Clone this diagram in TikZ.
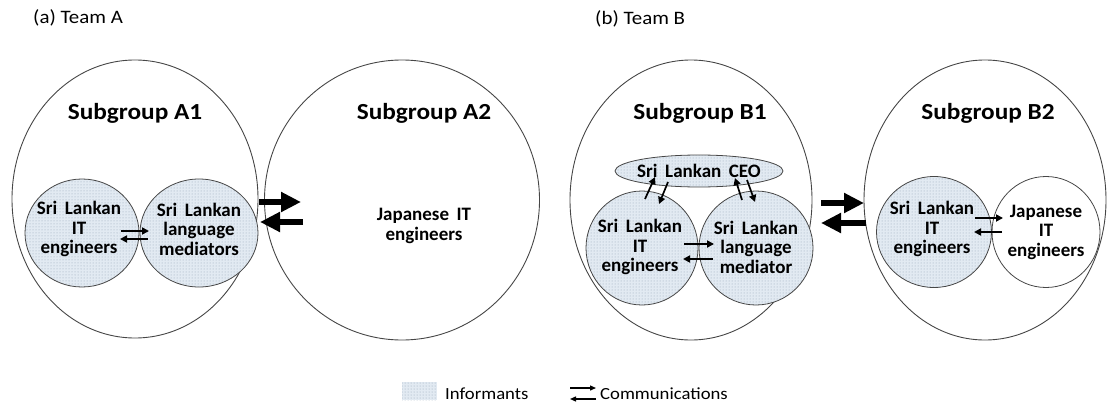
\documentclass[tikz,border=0pt]{standalone}
\usepackage{fontspec}
\setmainfont{Carlito}[FakeStretch=1.1]
\newfontfamily\boxfont{Carlito}
\newcommand\widewordspace{\spaceskip=0.4em\relax}
\usetikzlibrary{shapes.geometric,patterns,arrows.meta}
\definecolor{dotfill}{RGB}{226,234,242}
\definecolor{dotink}{RGB}{150,165,182}
\definecolor{rim}{RGB}{70,70,70}
\tikzset{
  group/.style={ellipse,draw=rim,line width=0.9pt,inner sep=0pt},
  member/.style={ellipse,draw=rim,line width=0.8pt,inner sep=0pt},
  informant/.style={member,preaction={fill=dotfill},pattern=dots,pattern color=dotink},
  inner/.style={align=center,inner sep=0pt,
    font=\boxfont\fontsize{19}{19.5}\selectfont\bfseries,
    execute at begin node=\widewordspace},
  title/.style={font=\fontsize{23}{26}\selectfont\bfseries,anchor=base},
  caption/.style={font=\fontsize{19}{21}\selectfont,anchor=west,inner sep=0pt},
  legendtext/.style={font=\fontsize{17}{19}\selectfont,anchor=west,inner sep=0pt},
  bigarrow/.style={line width=6pt,-{Triangle[length=20pt,width=19pt]}},
  smallarrow/.style={line width=1.7pt,-{Triangle[length=7pt,width=7pt]}},
  legendarrow/.style={line width=1.3pt,-{Triangle[length=6pt,width=5pt]}}
}
\begin{document}
\begin{tikzpicture}[x=1pt,y=-1pt]
\useasboundingbox (0,0) rectangle (1107,404);

% panel captions
\node[caption] (capA) at (33,18) {(a) Team A};
\node[caption] (capB) at (595,19) {(b) Team B};

% ---------------- Team A ----------------
\node[group,minimum width=246pt,minimum height=278pt] (A1) at (135,199) {};
\node[group,minimum width=275pt,minimum height=280pt] (A2) at (402,200) {};
\node[title] (tA1) at (135,119) {Subgroup A1};
\node[title] (tA2) at (424,119) {Subgroup A2};

\node[informant,minimum width=114pt,minimum height=108pt] (A1it) at (82,233) {};
\node[informant,minimum width=118pt,minimum height=108pt] (A1lm) at (199,233) {};
\node[inner] (A1itT) at (79,229) {Sri Lankan\\IT\\engineers};
\node[inner] (A1lmT) at (199,229) {Sri Lankan\\language\\mediators};
\node[inner] (A2jp) at (424,226) {Japanese IT\\engineers};

\coordinate (a1s) at (121,231);
\coordinate (a1e) at (149,231);
\coordinate (a2s) at (148,239);
\coordinate (a2e) at (120,239);
\draw[smallarrow] (a1s) -- (a1e);
\draw[smallarrow] (a2s) -- (a2e);

\coordinate (ab1s) at (259,202);
\coordinate (ab1e) at (301,202);
\coordinate (ab2s) at (303,222);
\coordinate (ab2e) at (260,222);
\draw[bigarrow] (ab1s) -- (ab1e);
\draw[bigarrow] (ab2s) -- (ab2e);

% ---------------- Team B ----------------
\node[group,minimum width=242pt,minimum height=280pt] (B1) at (691,200) {};
\node[group,minimum width=242pt,minimum height=280pt] (B2) at (985,200) {};
\node[title] (tB1) at (700,119) {Subgroup B1};
\node[title] (tB2) at (988,119) {Subgroup B2};

\node[informant,minimum width=168pt,minimum height=32pt] (ceo) at (699,171) {};
\node[inner] (ceoT) at (ceo) {Sri Lankan CEO};
\node[informant,minimum width=112pt,minimum height=114pt] (B1it) at (642,248) {};
\node[informant,minimum width=114pt,minimum height=114pt] (B1lm) at (756,248) {};
\node[inner] (B1itT) at (640,247) {Sri Lankan\\IT\\engineers};
\node[inner] (B1lmT) at (756,247) {Sri Lankan\\language\\mediator};

\coordinate (b1s) at (684,244);
\coordinate (b1e) at (714,244);
\coordinate (b2s) at (713,259);
\coordinate (b2e) at (683,259);
\draw[smallarrow] (b1s) -- (b1e);
\draw[smallarrow] (b2s) -- (b2e);

% links to the CEO
\coordinate (c1s) at (645,199);
\coordinate (c1e) at (655,177);
\coordinate (c2s) at (668,182);
\coordinate (c2e) at (659,204);
\coordinate (c3s) at (742,200);
\coordinate (c3e) at (735,178);
\coordinate (c4s) at (747,180);
\coordinate (c4e) at (755,202);
\draw[smallarrow] (c1s) -- (c1e);
\draw[smallarrow] (c2s) -- (c2e);
\draw[smallarrow] (c3s) -- (c3e);
\draw[smallarrow] (c4s) -- (c4e);

\node[informant,minimum width=115pt,minimum height=111pt] (B2it) at (934,232) {};
\node[member,minimum width=108pt,minimum height=111pt] (B2jp) at (1046,232) {};
\node[inner] (B2itT) at (932,229) {Sri Lankan\\IT\\engineers};
\node[inner] (B2jpT) at (1046,232) {Japanese\\IT\\engineers};

\coordinate (b3s) at (975,218);
\coordinate (b3e) at (1003,218);
\coordinate (b4s) at (1002,232);
\coordinate (b4e) at (974,232);
\draw[smallarrow] (b3s) -- (b3e);
\draw[smallarrow] (b4s) -- (b4e);

\coordinate (bb1s) at (821,203);
\coordinate (bb1e) at (864,203);
\coordinate (bb2s) at (866,223);
\coordinate (bb2e) at (821,223);
\draw[bigarrow] (bb1s) -- (bb1e);
\draw[bigarrow] (bb2s) -- (bb2e);

% ---------------- legend ----------------
\path[preaction={fill=dotfill},pattern=dots,pattern color=dotink]
  (402,382) rectangle (437,400);
\node[legendtext] (lgInf) at (445,394) {Informants};
\coordinate (l1s) at (570,388);
\coordinate (l1e) at (596,388);
\coordinate (l2s) at (596,399);
\coordinate (l2e) at (570,399);
\draw[legendarrow] (l1s) -- (l1e);
\draw[legendarrow] (l2s) -- (l2e);
\node[legendtext] (lgCom) at (600,394) {Communications};
\end{tikzpicture}
\end{document}
